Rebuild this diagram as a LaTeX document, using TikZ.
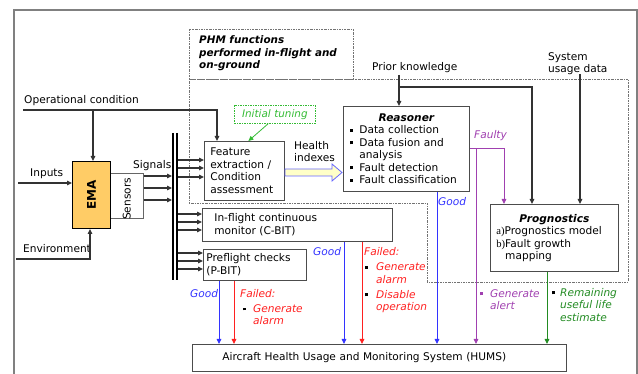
\documentclass[tikz,border=0pt]{standalone}
\usepackage{fontspec}
\usepackage{graphicx}
\setmainfont{DejaVu Sans}
\newfontfamily\serifa{Liberation Serif}
\usetikzlibrary{arrows.meta,calc}
\definecolor{emaorange}{HTML}{FFCC66}
\definecolor{cblue}{HTML}{3333FF}
\definecolor{cred}{HTML}{FF2020}
\definecolor{cpurple}{HTML}{A040B0}
\definecolor{cgreen}{HTML}{228B22}
\definecolor{tgreen}{HTML}{33BB33}
\definecolor{hiyellow}{HTML}{FFFFC8}
\definecolor{hiblue}{HTML}{6666FF}
\definecolor{lin}{HTML}{333333}
\newcommand\bsq[2][black]{\makebox[#2][l]{\textcolor{#1}{\rule[2pt]{3pt}{3pt}}}}
\newcommand\ind[1]{\makebox[#1]{}}
\newcommand\ml[1]{\begin{tabular}[t]{@{}l@{}}#1\end{tabular}}
\begin{document}
\begin{tikzpicture}[x=1pt,y=-1pt,
  font=\fontsize{10.6}{12.5}\selectfont,
  box/.style={draw=black!70, line width=0.8pt, inner ysep=0pt, align=left, anchor=north west},
  lbl/.style={anchor=base west, inner sep=0pt},
  ln/.style={draw=lin, line width=1.1pt},
  tip/.style={-{Triangle[length=5pt,width=4.5pt]}},
  arr/.style={ln, tip},
  barr/.style={draw=cblue, line width=0.9pt, tip},
  rarr/.style={draw=cred, line width=0.9pt, tip},
  parr/.style={draw=cpurple, line width=0.9pt, tip},
  garr/.style={draw=cgreen, line width=0.9pt, tip},
  dd/.style={draw=black!55, line width=0.6pt, dash pattern=on 2pt off 1pt on 0.6pt off 1pt},
  itl/.style={lbl, font=\itshape\fontsize{10.6}{12.5}\selectfont},
]
\useasboundingbox (0,0) rectangle (638,374);
% outer frame
\draw[draw=black!50, line width=1.3pt] (14,380) -- (14,10) -- (637,10) -- (637,380);
% PHM region
\draw[dd] (189,29) rectangle (353,79);
\draw[dd] (189,79) -- (628,79) -- (628,282) -- (427,282) -- (427,203) -- (189,203) -- cycle;
\node[lbl, font=\bfseries\itshape\fontsize{10.4}{12.3}\selectfont] (phm) at (199,44) {\ml{PHM functions\\performed in-flight and\\on-ground}};

% EMA and sensors
\node[box, draw=black!60, line width=0.7pt, minimum width=33, minimum height=45, inner xsep=0pt] (sen) at (110,173) {\raisebox{0pt}{\rotatebox{90}{\hspace*{-6pt}Sensors}}};
\node[box, fill=emaorange, draw=black, line width=1pt, minimum width=38, minimum height=67, inner xsep=0pt, align=center] (ema) at (72,161) {\rotatebox{90}{\bfseries\fontsize{12}{14}\selectfont EMA}};

% bus
\draw[draw=black, line width=1.2pt] (173,133) -- (173,280);
\draw[draw=black, line width=1.2pt] (177,133) -- (177,280);

% boxes
\node[box, minimum width=80, minimum height=59, text width=68, inner xsep=6] (fe) at (204,141) {Feature\\extraction /\\Condition\\assessment};
\node[box, minimum width=126, minimum height=85, text width=112, inner xsep=7] (rs) at (343,106)
 {\makebox[112pt]{\bfseries\itshape Reasoner}\\
  \bsq{9pt}Data collection\\
  \bsq{9pt}Data fusion and\\
  \ind{9pt}analysis\\
  \bsq{9pt}Fault detection\\
  \bsq{9pt}Fault classification};
\node[box, minimum width=128, minimum height=67, text width=116, inner xsep=6] (pg) at (490,204)
 {\makebox[116pt]{\bfseries\itshape Prognostics}\\
  {\serifa a)}Prognostics model\\
  {\serifa b)}Fault growth\\
  \hphantom{\serifa b)}mapping\\[3pt]};
\node[box, minimum width=190, minimum height=33, text width=166, inner xsep=12] (cb) at (202,208) {In-flight continuous\\monitor (C-BIT)};
\node[box, minimum width=103, minimum height=31, text width=97, inner xsep=3] (pb) at (203,249) {Preflight checks\\(P-BIT)};
\node[box, minimum width=374, minimum height=27, text width=314, inner xsep=30] (hums) at (192,344) {Aircraft Health Usage and Monitoring System (HUMS)};
\node[box, draw=tgreen, line width=0.6pt, dash pattern=on 1.5pt off 1pt, minimum width=81, minimum height=18, text width=81, inner xsep=0pt, align=center, text=tgreen, font=\itshape\fontsize{10.4}{12.5}\selectfont] (it) at (234,105) {Initial tuning};

% labels
\node[lbl] (opc) at (24,104) {Operational condition};
\node[lbl] (inl) at (30,177) {Inputs};
\node[lbl] (envl) at (23,253) {Environment};
\node[lbl] (sig) at (133,169) {Signals};
\node[lbl] (pkl) at (372,71) {Prior knowledge};
\node[lbl] (sud) at (548,60.5) {\ml{System\\usage data}};
\node[lbl] (hil) at (294,149.5) {\ml{Health\\indexes}};
\node[itl, text=cpurple] (fty) at (474,139) {Faulty};
\node[itl, text=cblue] (g1) at (438,206) {Good};
\node[itl, text=cblue] (g2) at (313,256) {Good};
\node[itl, text=cblue] (g3) at (190,297.5) {Good};
\node[itl, text=cred] (f1) at (364,256) {Failed:};
\node[itl, text=cred] (f2) at (240,297.5) {Failed:};
\node[itl, text=cred] (f1b) at (365,271) {\ml{\bsq{11pt}Generate\\\ind{11pt}alarm\\[2.5pt]\bsq{11pt}Disable\\\ind{11pt}operation}};
\node[itl, text=cred] (f2b) at (243,312.5) {\ml{\bsq{10pt}Generate\\\ind{10pt}alarm}};
\node[itl, text=cpurple] (gal) at (480,297.5) {\ml{\bsq[cpurple]{10pt}Generate\\\ind{10pt}alert}};
\node[itl, text=cgreen] (rul) at (552,296.5) {\ml{\bsq{8pt}Remaining\\\ind{8pt}useful life\\\ind{8pt}estimate}};

% coordinates
\coordinate (oc) at (23,110);
\coordinate (inp) at (18,183);
\coordinate (env) at (16,259);
\coordinate (pkd) at (399,75);
\coordinate (sdd) at (580,74);

% connectors
\draw[arr] (oc) -- (217,110) -- (217,0 |- fe.north);
\draw[arr] (93,110) -- (93,0 |- ema.north);
\draw[arr] (inp) -- (inp -| ema.west);
\draw[arr] (env) -- (env -| 90,0) -- (90,0 |- ema.south);
\foreach \yy in {176,188,200} \draw[arr] (sen.east |- 0,\yy) -- (172,\yy);
\foreach \yy in {160,168,177} \draw[arr] (178,\yy) -- (fe.west |- 0,\yy);
\foreach \yy in {214,222,230} \draw[arr] (178,\yy) -- (cb.west |- 0,\yy);
\foreach \yy in {253,261,269} \draw[arr] (178,\yy) -- (pb.west |- 0,\yy);
% health indexes block arrow
\draw[draw=hiblue, fill=hiyellow, line width=0.8pt] (285,169) -- (332,169) -- (332,164) -- (342,172.5) -- (332,181) -- (332,176) -- (285,176) -- cycle;
\draw[draw=tgreen, line width=0.8pt, tip] ($(it.south)+(-6.5,0)$) -- ($(fe.north)+(4,0)$);
\draw[arr] (pkd) -- (pkd |- rs.north);
\draw[arr] (399,87) -- (532,87) -- (532,0 |- pg.north);
\draw[arr] (sdd) -- (sdd |- pg.north);
\draw[parr] (rs.east) -- (504,0 |- rs.east) -- (504,0 |- pg.north);
\draw[parr] (476,0 |- rs.east) -- (476,0 |- hums.north);
\draw[barr] (437,0 |- rs.south) -- (437,0 |- hums.north);
\draw[garr] (547,0 |- pg.south) -- (547,0 |- hums.north);
\draw[barr] (344,0 |- cb.south) -- (344,0 |- hums.north);
\draw[rarr] (362,0 |- cb.south) -- (362,0 |- hums.north);
\draw[barr] (219,0 |- pb.south) -- (219,0 |- hums.north);
\draw[rarr] (234,0 |- pb.south) -- (234,0 |- hums.north);
\end{tikzpicture}
\end{document}
